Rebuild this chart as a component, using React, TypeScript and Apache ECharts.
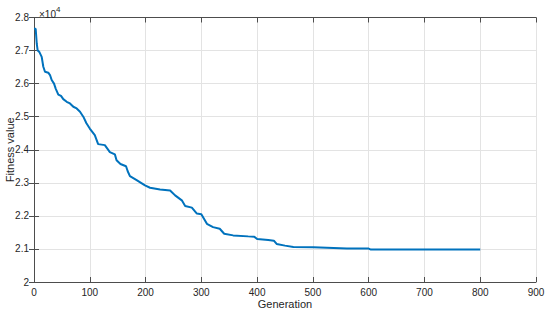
import React, { useEffect, useRef } from "react";
import * as echarts from "echarts";

// Generation (x) values of the traced curve
const generations: number[] = [
  0, 3, 5, 6.6, 9.5, 13.8, 16.7, 19.7, 25.6, 28.7, 31.7, 35.9, 38.9, 43.6, 48.4,
  52.5, 58.6, 64.5, 70.5, 76.5, 82.5, 88.4, 94, 100, 109, 115, 127, 136, 145, 148,
  155, 165, 168, 172, 184, 199, 208, 226, 244, 253, 265, 271, 283, 292, 300, 310,
  321, 333, 341, 357, 384, 395, 400, 420, 430, 435, 450, 465, 501, 561, 600, 604, 800,
];

// Fitness values (x10^4) at those generations
const fitness: number[] = [
  2.766, 2.766, 2.72, 2.7, 2.696, 2.681, 2.651, 2.636, 2.633, 2.626, 2.611, 2.6, 2.585,
  2.567, 2.563, 2.553, 2.545, 2.54, 2.53, 2.525, 2.515, 2.5, 2.48, 2.464, 2.444, 2.417,
  2.414, 2.393, 2.386, 2.368, 2.357, 2.35, 2.335, 2.32, 2.308, 2.292, 2.285, 2.28, 2.277,
  2.262, 2.247, 2.23, 2.225, 2.207, 2.205, 2.176, 2.166, 2.161, 2.146, 2.141, 2.138,
  2.137, 2.13, 2.127, 2.125, 2.115, 2.11, 2.106, 2.105, 2.101, 2.101, 2.098, 2.098,
];

const xTicks = { min: 0, max: 900, interval: 100 };
const yTicks = { min: 20000, max: 28000, interval: 1000 };

const FONT = "'Liberation Sans', Arial, sans-serif";
const AXIS_COLOR = "#4d4d4d";
const TEXT_COLOR = "#262626";

export default function App() {
  const ref = useRef<HTMLDivElement>(null);

  useEffect(() => {
    document.body.style.margin = "0";
    if (!ref.current) return;
    const chart = echarts.init(ref.current, undefined, { renderer: "svg" });
    const data = generations.map((g, i) => [g, fitness[i] * 10000]);

    const axisLine = { show: true, lineStyle: { color: AXIS_COLOR, width: 1 } };
    const tick = { show: true, inside: true, length: 5, lineStyle: { color: AXIS_COLOR } };

    chart.setOption({
      animation: false,
      backgroundColor: "#ffffff",
      textStyle: { fontFamily: FONT },
      title: {
        left: 34,
        top: 0,
        text: "{a|×10}{b|4}",
        textStyle: {
          rich: {
            a: { fontSize: 10, color: TEXT_COLOR, fontWeight: "normal", fontFamily: FONT, padding: [4, 0, 0, 0] },
            b: { fontSize: 8, color: TEXT_COLOR, fontWeight: "normal", fontFamily: FONT, verticalAlign: "top", padding: [0, 0, 6, 0] },
          },
        },
      },
      grid: { left: 34, right: 14, top: 17.5, bottom: 33, containLabel: false, outerBoundsMode: "none" },
      xAxis: [
        {
          type: "value",
          ...xTicks,
          name: "Generation",
          nameLocation: "middle",
          nameGap: 16,
          nameMoveOverlap: false,
          nameTextStyle: { fontSize: 11, color: TEXT_COLOR, fontFamily: FONT },
          axisLine,
          axisTick: tick,
          axisLabel: { fontSize: 10, color: TEXT_COLOR, margin: 5, fontFamily: FONT },
          splitLine: { show: true, lineStyle: { color: "#e3e3e3", width: 1 } },
        },
        {
          type: "value",
          position: "top",
          ...xTicks,
          axisLine,
          axisTick: tick,
          axisLabel: { show: false },
          splitLine: { show: false },
        },
      ],
      yAxis: [
        {
          type: "value",
          ...yTicks,
          name: "Fitness value",
          nameLocation: "middle",
          nameGap: 19,
          nameMoveOverlap: false,
          nameTextStyle: { fontSize: 11, color: TEXT_COLOR, fontFamily: FONT },
          axisLine,
          axisTick: tick,
          axisLabel: {
            fontSize: 10,
            color: TEXT_COLOR,
            margin: 5,
            fontFamily: FONT,
            formatter: (v: number) => String(Math.round(v / 100) / 100),
          },
          splitLine: { show: true, lineStyle: { color: "#e3e3e3", width: 1 } },
        },
        {
          type: "value",
          position: "right",
          ...yTicks,
          axisLine,
          axisTick: tick,
          axisLabel: { show: false },
          splitLine: { show: false },
        },
      ],
      series: [
        {
          type: "line",
          data,
          xAxisIndex: 0,
          yAxisIndex: 0,
          showSymbol: false,
          symbol: "none",
          lineStyle: { color: "#0072BD", width: 2 },
        },
      ],
    });
    return () => chart.dispose();
  }, []);

  return <div ref={ref} style={{ width: 550, height: 315 }} />;
}
